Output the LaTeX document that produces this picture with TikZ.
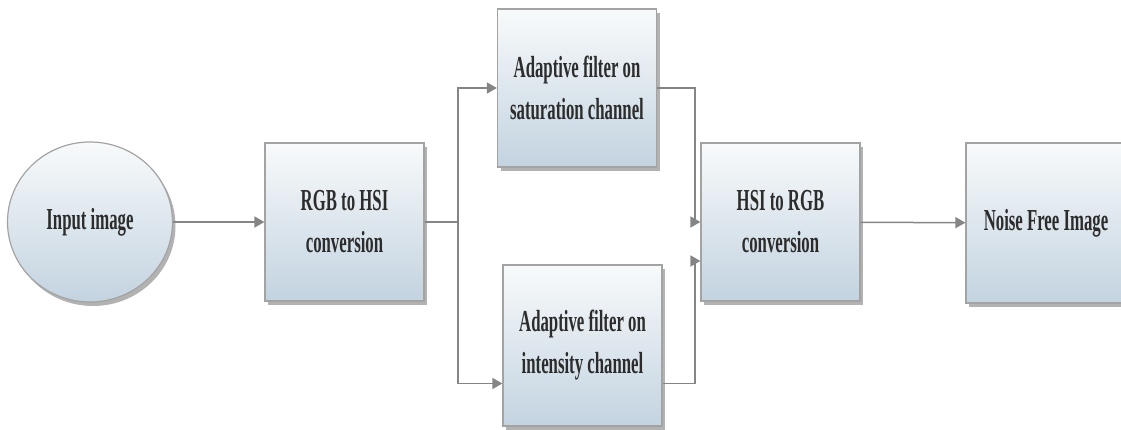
\documentclass[tikz,border=0pt]{standalone}
\usepackage{fontspec}
\setmainfont{Liberation Serif}[FakeStretch=0.55]
\usepackage{tikz}
\usetikzlibrary{
arrows.meta,
positioning,
shapes.geometric,
shadows
}
\definecolor{flowgray}{HTML}{858585}
\definecolor{flowedge}{HTML}{A3A3A3}
\definecolor{flowtop}{HTML}{F8FAFB}
\definecolor{flowbot}{HTML}{C3D3E0}
\definecolor{flowtext}{HTML}{2C2C2C}

\begin{document}
\begin{tikzpicture}[x=1pt, y=-1pt, >={Triangle[length=10pt, width=11pt]},
  block/.style={rectangle, draw=flowedge, line width=1.2pt,
    top color=flowtop, bottom color=flowbot,
    minimum width=159pt, minimum height=158pt, align=center,
    text=flowtext, font=\fontsize{30.5}{42}\selectfont\bfseries,
    drop shadow={shadow xshift=3pt, shadow yshift=-4pt, fill=black!60}},
  link/.style={->, draw=flowgray, line width=1.5pt}]

\useasboundingbox (0,0) rectangle (1121,430);

% Stages
\node[block, ellipse, minimum width=165pt, minimum height=160pt] (input) at (90,222) {Input image};
\node[block] (rgb2hsi) at (344.5,222) {RGB to HSI\\conversion};
\node[block] (satfilt) at (577,88) {Adaptive filter on\\saturation channel};
\node[block, minimum height=161pt] (intfilt) at (582.5,345.5) {Adaptive filter on\\intensity channel};
\node[block] (hsi2rgb) at (780.5,222) {HSI to RGB\\conversion};
\node[block, minimum width=160pt, minimum height=160pt] (output) at (1046,223) {Noise Free Image};

% Branch and merge points
\coordinate (split) at (458,222);
\coordinate (merge) at (695,222);

% Connectors
\draw[link] (input) -- (rgb2hsi);
\draw[link] (rgb2hsi.east) -- (split) |- (satfilt.west);
\draw[link] (split) |- ([yshift=-38pt]intfilt.west);
\draw[link] (satfilt.east) -| (merge) -- (hsi2rgb.west);
\draw[link] ([yshift=-38pt]intfilt.east) -| ([yshift=-39pt]merge) -- ([yshift=-39pt]hsi2rgb.west);
\draw[link] (hsi2rgb) -- (output);

\end{tikzpicture}
\end{document}
